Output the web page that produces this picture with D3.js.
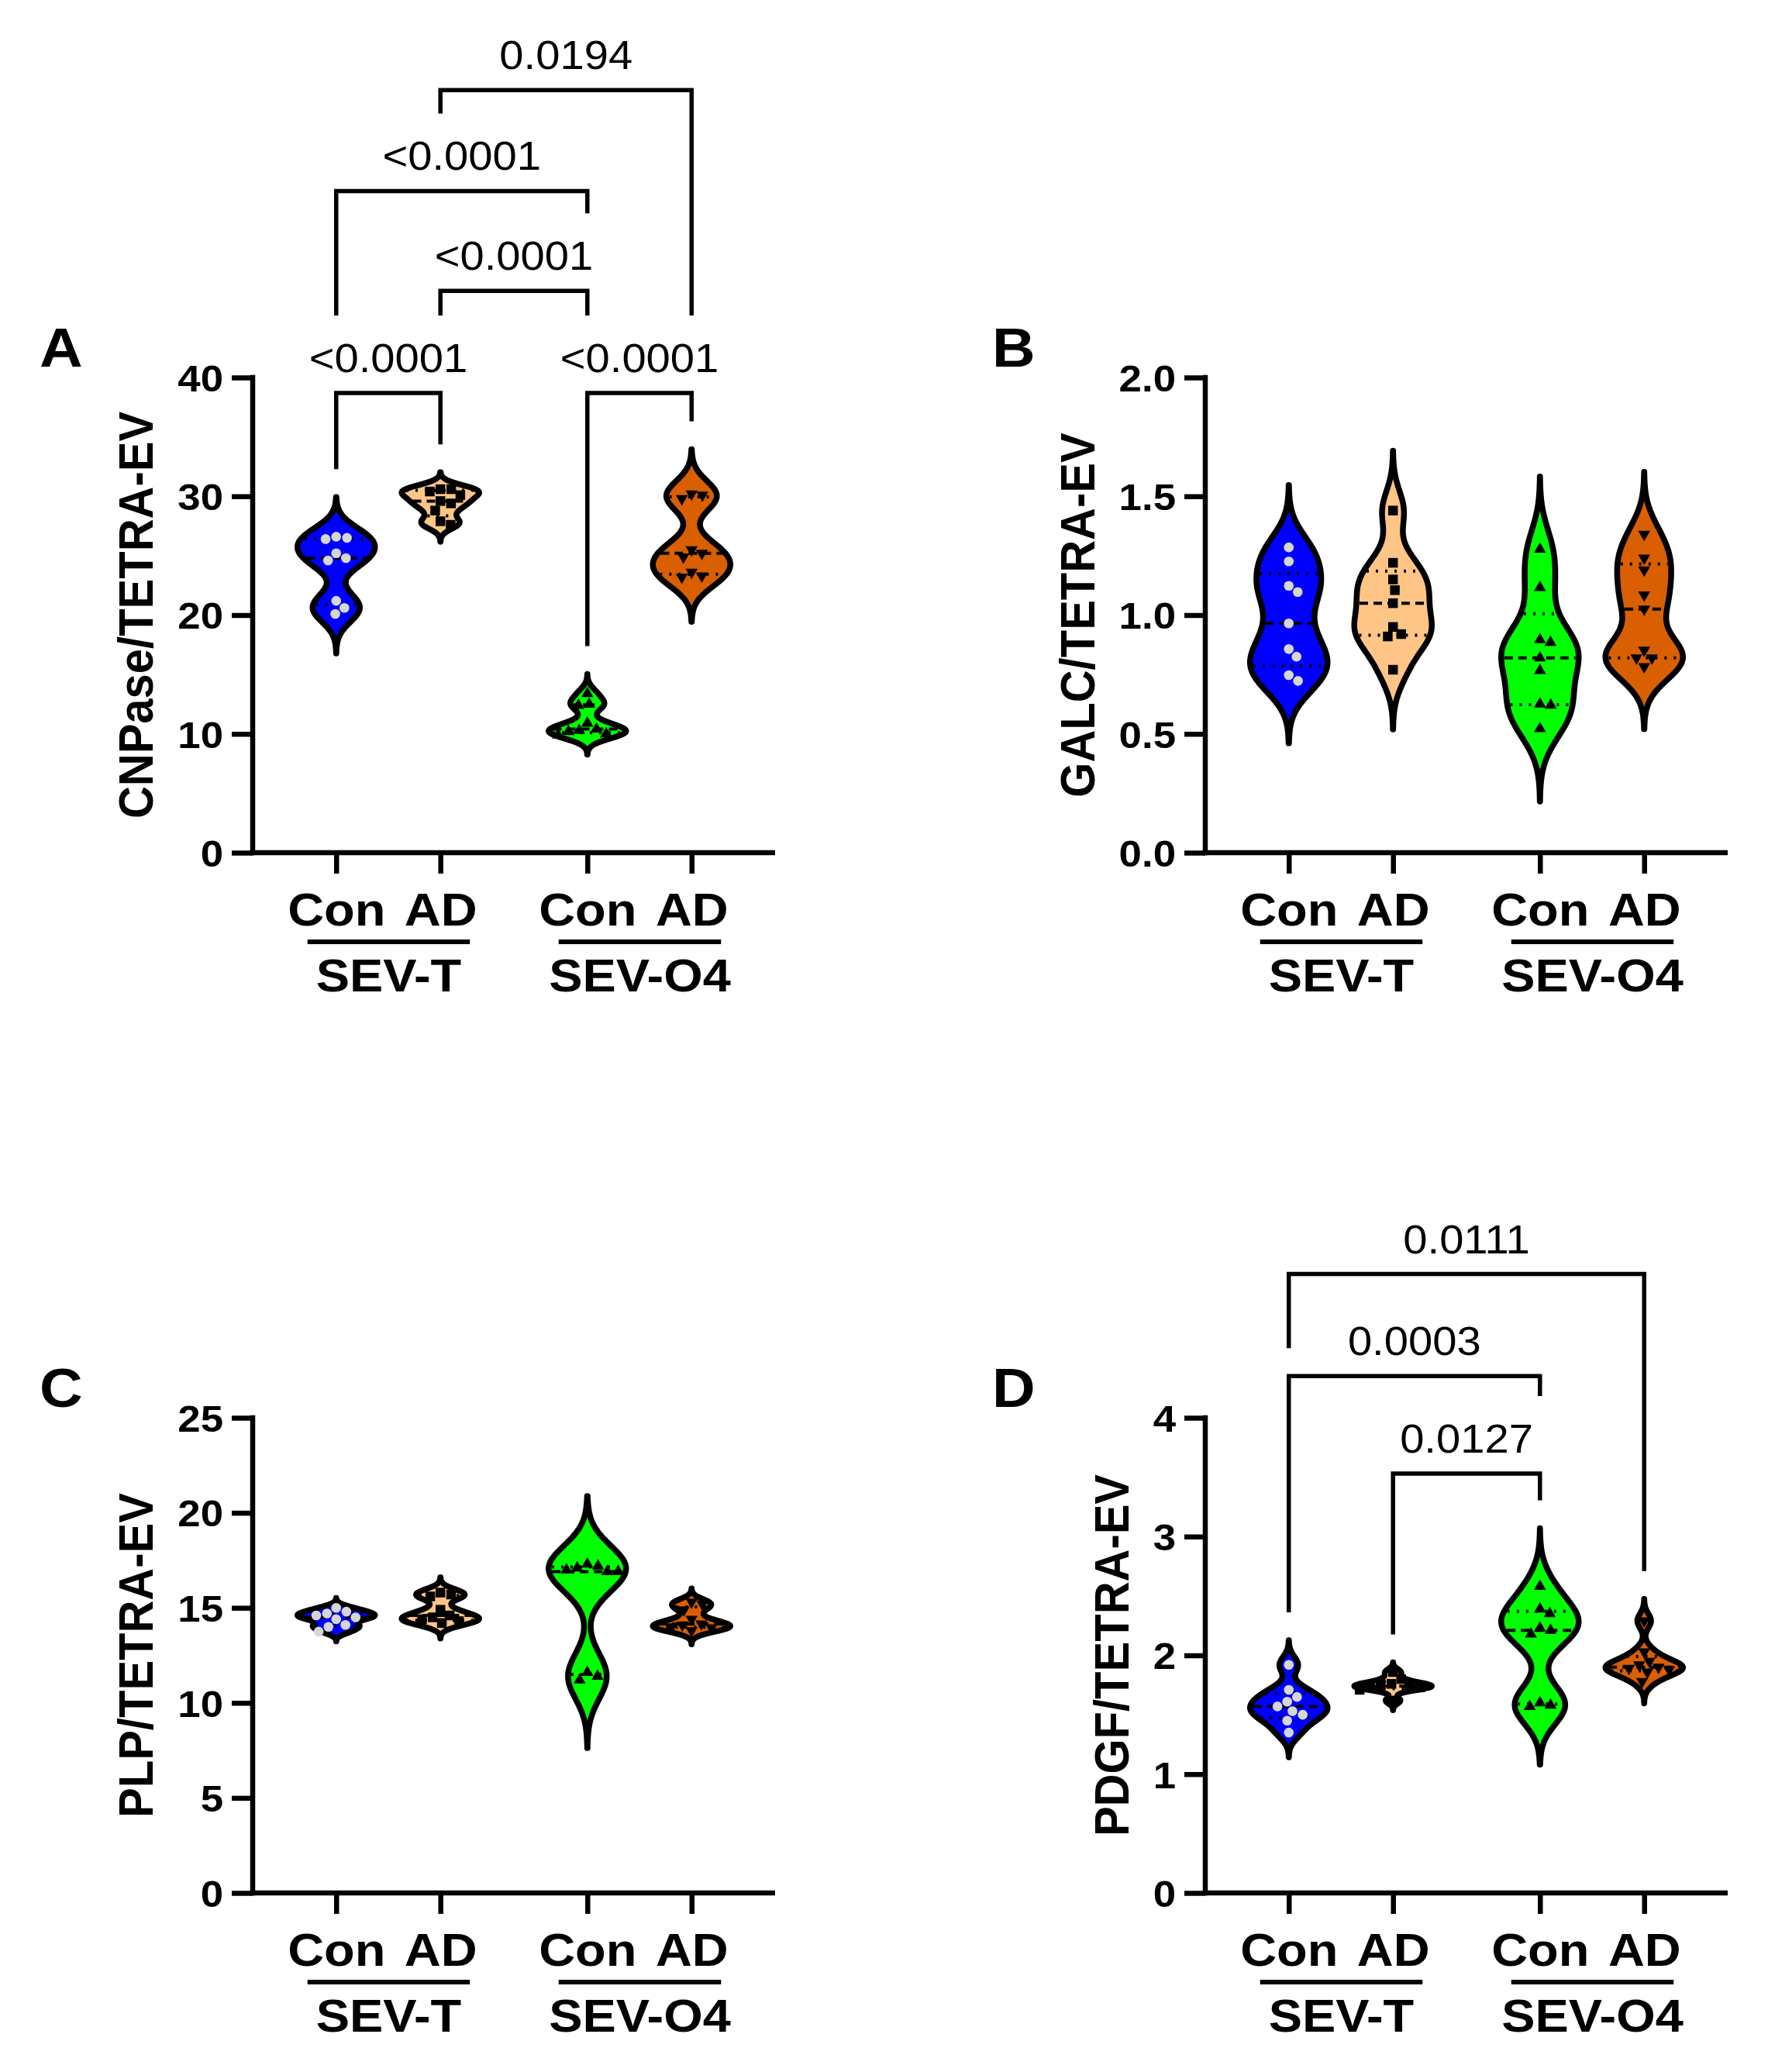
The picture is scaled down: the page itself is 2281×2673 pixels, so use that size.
<!DOCTYPE html>
<html><head><meta charset="utf-8">
<script src="https://cdn.jsdelivr.net/npm/d3@7"></script>
<style>body{margin:0;background:#fff}svg{display:block}</style>
</head><body>
<script>
// ---------- DATA ----------
const groups = ["SEV-T", "SEV-O4"];
const conditions = ["Con", "AD"];
const seriesKeys = ["Con|SEV-T", "AD|SEV-T", "Con|SEV-O4", "AD|SEV-O4"];

// A: CNPase/TETRA-EV
const cnpaseConT  = [26.6, 26.5, 26.4, 25.2, 24.8, 24.6, 21.2, 20.6, 20.1];
const cnpaseAdT   = [30.6, 30.6, 30.4, 30.1, 29.6, 29.4, 28.8, 27.9, 27.6];
const cnpaseConO4 = [13.4, 12.5, 12.4, 10.9, 10.4, 10.3, 10.2, 10.0, 9.9];
const cnpaseAdO4  = [30.2, 30.1, 29.8, 25.5, 25.2, 24.9, 23.6, 23.3, 23.2];
const cnpaseTicks = [0, 10, 20, 30, 40];
const cnpaseBrackets = [
  ["Con|SEV-T", "AD|SEV-T", 38.7, "<0.0001"],
  ["Con|SEV-O4", "AD|SEV-O4", 38.7, "<0.0001"],
  ["AD|SEV-T", "Con|SEV-O4", 47.3, "<0.0001"],
  ["Con|SEV-T", "Con|SEV-O4", 55.7, "<0.0001"],
  ["AD|SEV-T", "AD|SEV-O4", 64.2, "0.0194"]
];

// B: GALC/TETRA-EV
const galcConT  = [1.285, 1.226, 1.123, 1.097, 0.965, 0.857, 0.825, 0.747, 0.723];
const galcAdT   = [1.44, 1.22, 1.15, 1.105, 1.05, 0.95, 0.92, 0.91, 0.77];
const galcConO4 = [1.277, 1.116, 0.896, 0.885, 0.82, 0.767, 0.626, 0.621, 0.522];
const galcAdO4  = [1.34, 1.24, 1.19, 1.085, 1.025, 0.852, 0.82, 0.82, 0.783];
const galcTicks = [0, 0.5, 1.0, 1.5, 2.0];

// C: PLP/TETRA-EV
const plpConT  = [15.0, 14.8, 14.7, 14.6, 14.5, 14.4, 14.1, 14.0, 13.75];
const plpAdT   = [15.8, 15.7, 15.6, 14.9, 14.6, 14.5, 14.4, 14.3, 14.2];
const plpConO4 = [17.3, 17.2, 17.1, 17.0, 16.9, 16.9, 11.6, 11.4, 11.2];
const plpAdO4  = [15.3, 15.2, 14.9, 14.4, 14.15, 14.1, 14.0, 13.95, 13.8];
const plpTicks = [0, 5, 10, 15, 20, 25];

// D: PDGF/TETRA-EV
const pdgfConT  = [1.92, 1.71, 1.65, 1.61, 1.57, 1.53, 1.50, 1.45, 1.35];
const pdgfAdT   = [1.86, 1.80, 1.76, 1.75, 1.74, 1.74, 1.73, 1.71, 1.62];
const pdgfConO4 = [2.58, 2.39, 2.35, 2.23, 2.21, 2.18, 1.60, 1.58, 1.57];
const pdgfAdO4  = [2.29, 2.03, 1.95, 1.92, 1.90, 1.89, 1.88, 1.86, 1.78];
const pdgfTicks = [0, 1, 2, 3, 4];
const pdgfBrackets = [
  ["AD|SEV-T", "Con|SEV-O4", 3.53, "0.0127"],
  ["Con|SEV-T", "Con|SEV-O4", 4.35, "0.0003"],
  ["Con|SEV-T", "AD|SEV-O4", 5.21, "0.0111"]
];

const panels = [
  {letter: "A", title: "CNPase/TETRA-EV", series: [cnpaseConT, cnpaseAdT, cnpaseConO4, cnpaseAdO4], ticks: cnpaseTicks, fmt: d3.format("d"), brackets: cnpaseBrackets},
  {letter: "B", title: "GALC/TETRA-EV", series: [galcConT, galcAdT, galcConO4, galcAdO4], ticks: galcTicks, fmt: d3.format(".1f"), brackets: []},
  {letter: "C", title: "PLP/TETRA-EV", series: [plpConT, plpAdT, plpConO4, plpAdO4], ticks: plpTicks, fmt: d3.format("d"), brackets: []},
  {letter: "D", title: "PDGF/TETRA-EV", series: [pdgfConT, pdgfAdT, pdgfConO4, pdgfAdO4], ticks: pdgfTicks, fmt: d3.format("d"), brackets: pdgfBrackets}
];

// ---------- STYLE / LAYOUT ----------
const W = 2281, H = 2673;
const plotW = 674, plotH = 613;
const origins = [{x: 326, y: 487}, {x: 1555, y: 487}, {x: 326, y: 1829}, {x: 1555, y: 1829}];
const FONT = '"Liberation Sans", Arial, Helvetica, sans-serif';
const SX = 1.1; // horizontal stretch of lettering
const fills = {"Con|SEV-T": "#0000ff", "AD|SEV-T": "#ffc587", "Con|SEV-O4": "#00ff00", "AD|SEV-O4": "#d95f00"};
const markers = {
  "Con|SEV-T":  {type: d3.symbolCircle,   size: 125, fill: "#d6d6d6", rot: 0},
  "AD|SEV-T":   {type: d3.symbolSquare,   size: 155, fill: "#000",    rot: 0},
  "Con|SEV-O4": {type: d3.symbolTriangle, size: 105, fill: "#000",    rot: 0},
  "AD|SEV-O4":  {type: d3.symbolTriangle, size: 105, fill: "#000",    rot: 180}
};
const LW = 6.5;
const HALF = 50;

const svg = d3.select("body").append("svg")
  .attr("width", W).attr("height", H)
  .style("font-family", FONT);
svg.append("rect").attr("width", W).attr("height", H).attr("fill", "#fff");

function quantileP(sorted, p) {
  const n = sorted.length, h = (n + 1) * p;
  if (h <= 1) return sorted[0];
  if (h >= n) return sorted[n - 1];
  const lo = Math.floor(h);
  return sorted[lo - 1] + (h - lo) * (sorted[lo] - sorted[lo - 1]);
}

function swarm(values, y, D) {
  const pts = values.map(v => ({v, py: y(v)})).sort((a, b) => a.py - b.py);
  const placed = [];
  for (const p of pts) {
    const cands = [0];
    for (const q of placed) {
      const dy = p.py - q.py;
      if (Math.abs(dy) < D) {
        const dx = Math.sqrt(D * D - dy * dy);
        cands.push(q.dx + dx, q.dx - dx);
      }
    }
    cands.sort((a, b) => Math.abs(a) - Math.abs(b));
    p.dx = 0;
    for (const c of cands) {
      if (placed.every(q => (q.dx - c) ** 2 + (q.py - p.py) ** 2 >= D * D - 0.01)) { p.dx = c; break; }
    }
    placed.push(p);
  }
  return placed;
}

panels.forEach((p, i) => {
  const o = origins[i];
  const g = svg.append("g").attr("transform", `translate(${o.x},${o.y})`);
  const ymax = p.ticks[p.ticks.length - 1];
  const y = d3.scaleLinear().domain([0, ymax]).range([plotH, 0]);
  const outer = d3.scaleBand().domain(groups).range([0, plotW]).paddingInner(0.17).paddingOuter(0.125);
  const inner = d3.scalePoint().domain(conditions).range([0, outer.bandwidth()]).padding(0.5);
  const cx = key => { const [c, gr] = key.split("|"); return outer(gr) + inner(c); };
  const xOrd = d3.scaleOrdinal().domain(seriesKeys).range(seriesKeys.map(cx));

  // Y axis
  const ya = g.append("g").call(d3.axisLeft(y).tickValues(p.ticks).tickFormat(p.fmt).tickSize(27).tickSizeOuter(0).tickPadding(11));
  ya.select(".domain").remove();
  ya.selectAll(".tick line").attr("stroke", "#000").attr("stroke-width", LW);
  let maxTW = 0;
  ya.selectAll(".tick text")
    .attr("font-size", 48).attr("font-weight", "bold").attr("fill", "#000").attr("font-family", FONT)
    .attr("dy", "0.36em").attr("x", 0).attr("transform", `translate(-38,0) scale(${SX},1)`)
    .each(function () { maxTW = Math.max(maxTW, this.getComputedTextLength() * SX); });
  g.append("line").attr("x1", 0).attr("x2", 0).attr("y1", y(ymax) - LW / 2).attr("y2", plotH + LW / 2).attr("stroke", "#000").attr("stroke-width", LW);

  // X axis
  const xa = g.append("g").attr("transform", `translate(0,${plotH})`)
    .call(d3.axisBottom(xOrd).tickSize(27).tickSizeOuter(0).tickPadding(25).tickFormat(k => k.split("|")[0]));
  xa.select(".domain").remove();
  xa.selectAll(".tick line").attr("stroke", "#000").attr("stroke-width", LW);
  xa.selectAll(".tick text").attr("font-size", 59).attr("font-weight", "bold").attr("fill", "#000").attr("font-family", FONT)
    .attr("transform", `scale(${SX},1)`);
  g.append("line").attr("x1", -LW / 2).attr("x2", plotW).attr("y1", plotH).attr("y2", plotH).attr("stroke", "#000").attr("stroke-width", LW);

  // group underline + labels
  groups.forEach(gr => {
    const x0 = outer(gr) + inner("Con") - 37, x1 = outer(gr) + inner("AD") + 38;
    g.append("line").attr("x1", x0).attr("x2", x1).attr("y1", plotH + 115).attr("y2", plotH + 115).attr("stroke", "#000").attr("stroke-width", 6);
    g.append("text").attr("transform", `translate(${(x0 + x1) / 2},${plotH + 179}) scale(${SX},1)`).attr("text-anchor", "middle")
      .attr("font-size", 59).attr("font-weight", "bold").text(gr);
  });

  // Y title
  const tx = -38 - maxTW - 55;
  g.append("text").attr("transform", `translate(${tx},${plotH / 2}) scale(${SX},1) rotate(-90)`)
    .attr("text-anchor", "middle").attr("dy", "0.36em")
    .attr("font-size", 58).attr("font-weight", "bold").text(p.title);

  // panel letter
  g.append("text").attr("transform", `translate(-275,-14) scale(${SX},1)`).attr("font-size", 70).attr("font-weight", "bold").text(p.letter);

  // Violins
  const violinTop = {};
  seriesKeys.forEach((key, si) => {
    const vals = p.series[si].slice().sort(d3.ascending);
    const sd = d3.deviation(vals);
    const bw = 0.42 * sd;
    const lo = vals[0] - 3 * bw, hi = vals[vals.length - 1] + 3 * bw;
    const N = 240;
    const grid = d3.range(N + 1).map(j => lo + (hi - lo) * j / N);
    const dens = grid.map(v => d3.sum(vals, xi => Math.exp(-0.5 * ((v - xi) / bw) ** 2)));
    const dmax = d3.max(dens);
    const wScale = d3.scaleLinear().domain([0, dmax]).range([0, HALF]);
    const prof = grid.map((v, j) => ({v, w: wScale(dens[j])}));
    const c = cx(key);
    violinTop[key] = y(hi);
    const area = d3.area().curve(d3.curveBasis).y(d => y(d.v)).x0(d => c - d.w).x1(d => c + d.w);
    g.append("path").datum(prof).attr("d", area)
      .attr("fill", fills[key]).attr("stroke", "#000").attr("stroke-width", 7.5).attr("stroke-linejoin", "round");
    const widthAt = v => {
      const j = Math.max(0, Math.min(N, Math.round((v - lo) / (hi - lo) * N)));
      return prof[j].w;
    };
    const stats = [
      {q: quantileP(vals, 0.25), dash: "3,9"},
      {q: quantileP(vals, 0.75), dash: "3,9"},
      {q: quantileP(vals, 0.5), dash: "11,7"}
    ];
    stats.forEach(s => {
      const w = Math.max(0, widthAt(s.q) - 4);
      g.append("line").attr("x1", c - w).attr("x2", c + w).attr("y1", y(s.q)).attr("y2", y(s.q))
        .attr("stroke", "#000").attr("stroke-width", 4).attr("stroke-dasharray", s.dash);
    });
    const m = markers[key];
    const sym = d3.symbol().type(m.type).size(m.size);
    swarm(vals, y, 14).forEach(pt => {
      g.append("path").attr("d", sym())
        .attr("transform", `translate(${c + pt.dx},${pt.py}) rotate(${m.rot})`)
        .attr("fill", m.fill);
    });
  });

  // Brackets
  const LF = 52, capH = 37, gap = 36, labelOff = 27;
  const bInfo = p.brackets.map(b => {
    const xa_ = cx(b[0]), xb_ = cx(b[1]);
    const yb = y(b[2]);
    return {xa: xa_, xb: xb_, yb, label: b[3], lx: (xa_ + xb_) / 2, ly: yb - labelOff};
  });
  const tmp = g.append("text").attr("font-size", LF);
  bInfo.forEach(b => { tmp.text(b.label); b.lw = tmp.node().getComputedTextLength() * 1.08; });
  tmp.remove();
  const legEnd = (b, x, key) => {
    const obst = [violinTop[key]];
    bInfo.forEach(o => {
      if (o === b || o.yb <= b.yb) return;
      if (x >= Math.min(o.xa, o.xb) - 3 && x <= Math.max(o.xa, o.xb) + 3) {
        if (Math.abs(x - o.lx) <= o.lw / 2 + 20) obst.push(o.ly - capH);
        else obst.push(o.yb);
      }
    });
    return d3.min(obst) - gap;
  };
  bInfo.forEach((b, bi) => {
    const ea = legEnd(b, b.xa, p.brackets[bi][0]), eb = legEnd(b, b.xb, p.brackets[bi][1]);
    g.append("path").attr("d", `M${b.xa},${ea}V${b.yb}H${b.xb}V${eb}`)
      .attr("fill", "none").attr("stroke", "#000").attr("stroke-width", 5.5).attr("stroke-linejoin", "miter");
    g.append("text").attr("transform", `translate(${b.lx},${b.ly}) scale(1.08,1)`).attr("text-anchor", "middle")
      .attr("font-size", LF).text(b.label);
  });
});
</script>
</body></html>
